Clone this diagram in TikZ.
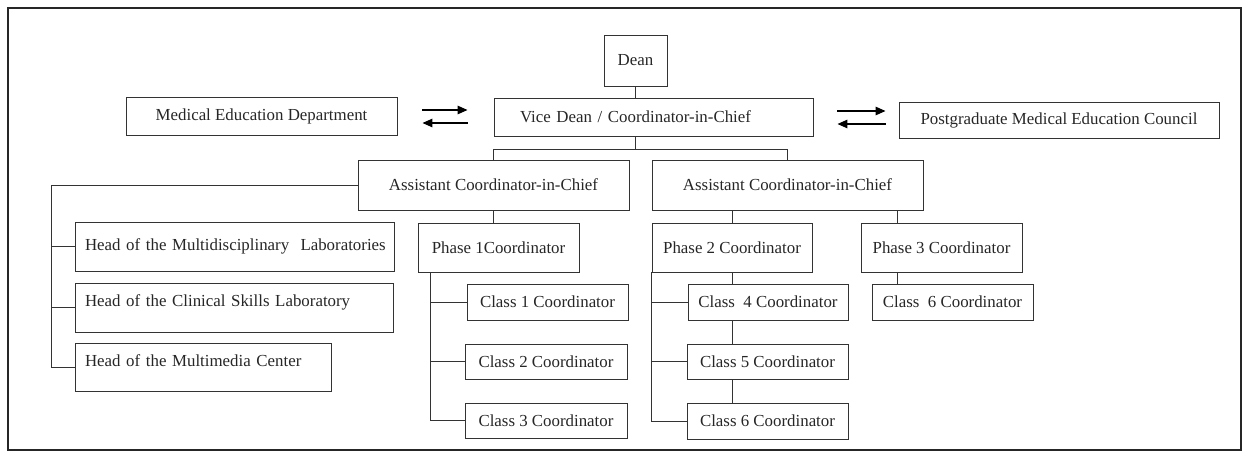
\documentclass[tikz,border=0pt]{standalone}
\usepackage{fontspec}
\setmainfont{Liberation Serif}
\usetikzlibrary{arrows.meta}

\begin{document}
\begin{tikzpicture}[x=0.02cm, y=-0.02cm,
					box/.style={draw=black!80, line width=0.55pt, inner sep=0pt, text=black!85, font=\fontsize{9.6}{11.5}\selectfont, align=center},
					headbox/.style={box, align=left, inner xsep=0.2cm},
					lowtext/.style={text height=7pt, text depth=8pt},
					link/.style={draw=black!80, line width=0.55pt},
					flow/.style={draw=black, line width=0.8pt, -{Triangle[length=0.2cm, width=0.17cm]}}
				]
				% Parameters
				\def\px{0.02cm}   % one pixel of the original scan

				\useasboundingbox (0,0) rectangle (1247,453);

				% --- Outer frame ---
				\draw[line width=0.8pt, black!85] (8,8) rectangle (1241,450);

				% --- Top level ---
				\node[box, minimum width=63*\px, minimum height=51*\px] (dean) at (635.5,60.5) {Dean};
				\node[box, align=left, inner xsep=0.52cm, text width=5.34cm, minimum width=319*\px, minimum height=38*\px] (vice) at (653.5,117) {Vice Dean / Coordinator-in-Chief};
				\node[box, minimum width=271*\px, minimum height=38*\px] (med) at (261.5,116) {Medical Education Department};
				\node[box, minimum width=320*\px, minimum height=36*\px] (pgmec) at (1059,120) {Postgraduate Medical Education Council};

				% --- Assistants ---
				\node[box, minimum width=271*\px, minimum height=50*\px] (asst1) at (493.5,185) {Assistant Coordinator-in-Chief};
				\node[box, minimum width=271*\px, minimum height=50*\px] (asst2) at (787.5,185) {Assistant Coordinator-in-Chief};

				% --- Heads ---
				\node[headbox, text width=6.0cm, minimum height=49*\px] (head1) at (235,246.5) {\mbox{Head of the Multidisciplinary\ \ Laboratories}};
				\node[headbox, lowtext, text width=5.98cm, minimum height=49*\px] (head2) at (234.5,307.5) {Head of the Clinical Skills Laboratory};
				\node[headbox, lowtext, text width=4.74cm, minimum height=48*\px] (head3) at (203.5,367) {Head of the Multimedia Center};

				% --- Phases ---
				\node[box, minimum width=161*\px, minimum height=49*\px] (ph1) at (498.5,247.5) {Phase 1Coordinator};
				\node[box, minimum width=160*\px, minimum height=49*\px] (ph2) at (732,247.5) {Phase 2 Coordinator};
				\node[box, minimum width=161*\px, minimum height=49*\px] (ph3) at (941.5,247.5) {Phase 3 Coordinator};

				% --- Classes ---
				\node[box, minimum width=161*\px, minimum height=36*\px] (cls1) at (547.5,302) {Class 1 Coordinator};
				\node[box, minimum width=162*\px, minimum height=35*\px] (cls2) at (546,361.5) {Class 2 Coordinator};
				\node[box, minimum width=162*\px, minimum height=35*\px] (cls3) at (546,420.5) {Class 3 Coordinator};
				\node[box, minimum width=160*\px, minimum height=36*\px] (cls4) at (768,302) {Class\ \ 4 Coordinator};
				\node[box, minimum width=161*\px, minimum height=35*\px] (cls5) at (767.5,361.5) {Class 5 Coordinator};
				\node[box, minimum width=161*\px, minimum height=36*\px] (cls6) at (767.5,421) {Class 6 Coordinator};
				\node[box, minimum width=161*\px, minimum height=36*\px] (cls6b) at (952.5,302) {Class\ \ 6 Coordinator};

				% --- Two-way arrows ---
				\draw[flow, shorten <=25*\px, shorten >=26*\px] ([yshift=6*\px]med.east) -- ([yshift=6*\px]med.east -| vice.west);
				\draw[flow, shorten <=26*\px, shorten >=25*\px] ([yshift=-7*\px]med.east -| vice.west) -- ([yshift=-7*\px]med.east);
				\draw[flow, shorten <=24*\px, shorten >=13*\px] ([yshift=6*\px]vice.east) -- ([yshift=6*\px]vice.east -| pgmec.west);
				\draw[flow, shorten <=13*\px, shorten >=24*\px] ([yshift=-7*\px]vice.east -| pgmec.west) -- ([yshift=-7*\px]vice.east);

				% --- Dean to assistants ---
				\draw[link] (dean.south) -- (dean.south |- vice.north);
				\draw[link] (vice.south -| dean.south) -- ++(0,13) -| (asst1.north);
				\draw[link] (vice.south -| dean.south) -- ++(0,13) -| (asst2.north);

				% --- Heads ---
				\draw[link] (asst1.west) -| ([xshift=-23*\px]head3.west) -- (head3.west);
				\draw[link] (head1.west) -- ++(-23,0);
				\draw[link] (head2.west) -- ++(-23,0);

				% --- Phase 1 ---
				\coordinate (s1) at ([xshift=13*\px]ph1.south west);
				\draw[link] (asst1.south) -- (asst1.south |- ph1.north);
				\draw[link] (s1) |- (cls3.west);
				\draw[link] (cls1.west) -- (cls1.west -| s1);
				\draw[link] (cls2.west) -- (cls2.west -| s1);

				% --- Phase 2 ---
				\coordinate (s2) at (ph2.south west);
				\draw[link] (ph2.north) -- (ph2.north |- asst2.south);
				\draw[link] (s2) |- (cls6.west);
				\draw[link] (cls4.west) -- (cls4.west -| s2);
				\draw[link] (cls5.west) -- (cls5.west -| s2);
				\draw[link] (ph2.south) -- (ph2.south |- cls4.north);
				\draw[link] (cls4.south -| ph2.south) -- (ph2.south |- cls5.north);
				\draw[link] (cls5.south -| ph2.south) -- (ph2.south |- cls6.north);

				% --- Phase 3 ---
				\coordinate (s3) at ([xshift=37*\px]ph3.north west);
				\draw[link] (s3) -- (s3 |- asst2.south);
				\draw[link] ([xshift=37*\px]ph3.south west) -- ([xshift=37*\px]ph3.south west |- cls6b.north);

			\end{tikzpicture}
\end{document}
